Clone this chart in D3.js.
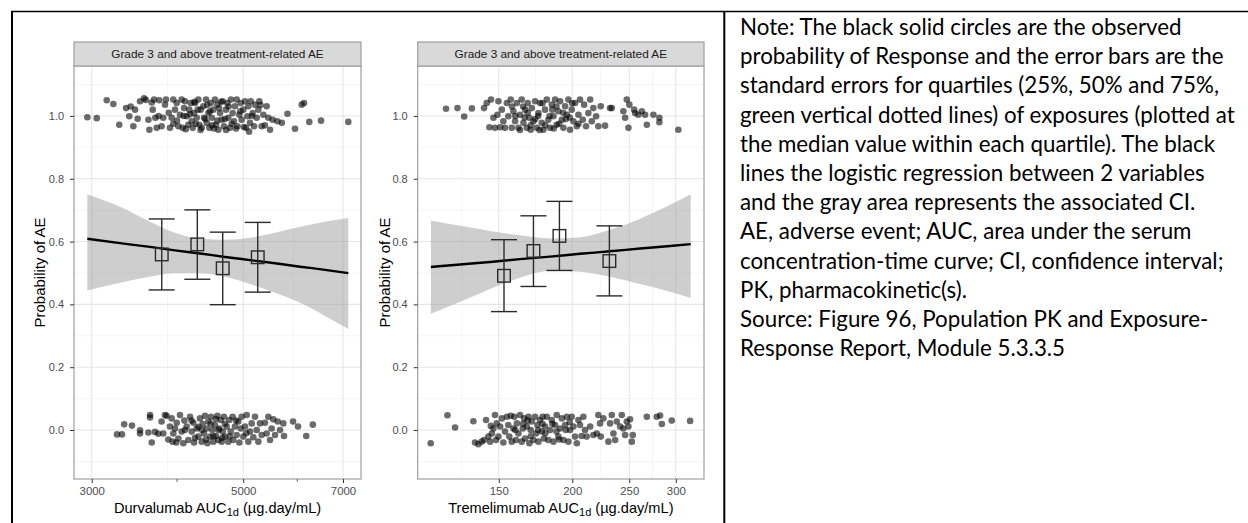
<!DOCTYPE html>
<html>
<head>
<meta charset="utf-8">
<script src="https://cdn.jsdelivr.net/npm/d3@7"></script>
<style>
  body { margin: 0; background: #fff; }
  svg { display: block; }
</style>
</head>
<body>
<svg id="chart" width="1248" height="523"></svg>
<script>
// ---------------- data ----------------
const stripTitle = "Grade 3 and above treatment-related AE";
const yAxisTitle = "Probability of AE";
const yTicks = [0, 0.2, 0.4, 0.6, 0.8, 1.0];

// Durvalumab exposure (AUC1d) and jittered event outcome (1 = AE, 0 = no AE)
const durvaTicks = [3000, 5000, 7000];
const durvaSmallTicks = [4000, 6000];
const durvaEvent = [
  [2956,0.996],[3051,0.993],[3156,1.050],[3227,1.038],[3292,0.972],[3368,1.025],[3421,1.030],[3405,0.999],
  [3452,0.967],[3472,1.020],[3503,0.991],[3531,1.047],[3579,1.056],[3600,1.051],[3644,0.956],[3632,0.988],
  [3673,1.043],[3685,1.020],[3702,1.052],[3735,0.962],[3718,0.994],[3768,1.050],[3797,0.967],[3819,0.994],
  [3841,1.036],[3854,1.052],[3906,0.962],[3928,0.994],[3950,1.052],[3973,1.020],[3996,1.041],[4018,0.967],
  [4040,1.004],[4063,1.052],[4077,0.962],[4095,1.025],[4109,1.047],[4132,0.999],[4155,0.972],[4169,1.020],
  [4189,1.041],[4203,0.983],[4217,0.962],[4236,1.009],[4250,1.041],[4274,0.994],[4298,1.052],[4312,0.972],
  [4332,1.020],[4347,0.962],[4371,1.031],[4381,0.994],[4411,1.052],[4421,0.978],[4446,1.009],[4461,0.962],
  [4482,1.041],[4497,0.994],[4521,1.020],[4546,1.052],[4562,0.972],[4583,1.036],[4598,0.956],[4624,1.009],
  [4650,0.988],[4666,1.047],[4686,0.967],[4718,1.020],[4739,1.041],[4755,0.994],[4782,0.962],[4798,1.052],
  [4825,1.009],[4847,0.983],[4863,1.031],[4891,1.052],[4902,0.967],[4935,1.004],[4958,1.041],[4974,0.988],
  [5002,1.020],[5030,1.047],[5047,0.962],[5070,0.999],[5087,1.031],[5116,0.978],[5128,1.047],[5163,1.009],
  [5186,0.967],[5203,1.036],[5233,0.994],[5262,1.020],[5280,1.047],[5321,0.967],[5351,1.004],[5411,1.031],
  [5442,0.994],[5473,0.956],[5523,0.988],[5611,0.983],[5695,0.978],[5805,1.007],[5954,0.959],[6090,1.036],
  [6138,1.041],[6248,0.981],[6500,0.985],[7126,0.981],
  [4000,0.985],[4120,0.958],[4260,0.975],[4400,0.990],[4430,1.035],[4530,0.960],[4610,1.025],[4700,0.990],
  [4760,1.030],[4880,0.960],[4950,1.015],[5100,0.950],[4180,1.005],[4330,0.955],[4470,1.015],[4580,0.985],
  [4810,0.975],[5010,0.965],[3890,1.010],[3950,0.975],[4240,1.045],[4640,1.045],[5150,1.000],[5300,1.035],
  [5380,0.970],[3760,1.000],[4090,1.000],[4290,1.020],[4500,0.970],[4720,0.955]
];
const durvaNoEvent = [
  [3267,-0.014],[3322,-0.014],[3347,0.018],[3436,0.014],[3531,-0.001],[3531,-0.011],[3632,-0.008],[3652,0.048],
  [3652,0.040],[3673,-0.040],[3714,-0.006],[3755,-0.012],[3797,0.027],[3819,-0.011],[3841,0.048],[3862,0.045],
  [3884,-0.030],[3906,0.011],[3928,0.037],[3941,-0.037],[3950,-0.011],[3973,0.005],[3996,0.023],[4018,-0.027],
  [4040,0.048],[4063,-0.005],[4086,-0.042],[4109,0.000],[4132,0.011],[4155,-0.032],[4179,0.042],[4203,-0.005],
  [4226,0.023],[4236,-0.040],[4274,0.005],[4298,-0.021],[4322,0.037],[4347,-0.037],[4361,0.019],[4381,-0.011],
  [4396,0.045],[4421,0.005],[4431,-0.042],[4446,0.027],[4471,-0.021],[4486,0.042],[4506,0.000],[4521,-0.037],
  [4546,0.016],[4562,-0.019],[4583,0.045],[4598,-0.032],[4614,0.005],[4635,0.032],[4650,-0.037],[4666,-0.005],
  [4686,0.042],[4702,-0.021],[4729,0.011],[4755,-0.037],[4771,0.032],[4793,-0.005],[4825,0.042],[4836,-0.032],
  [4863,0.011],[4891,-0.016],[4918,0.027],[4935,-0.040],[4958,0.005],[4974,0.042],[5002,-0.021],[5030,0.011],
  [5058,0.048],[5087,-0.037],[5116,-0.005],[5145,0.021],[5174,-0.023],[5203,0.042],[5233,0.000],[5262,-0.037],
  [5291,0.021],[5321,-0.016],[5381,0.023],[5411,-0.011],[5442,0.042],[5473,-0.032],[5503,0.005],[5533,0.034],
  [5566,-0.016],[5617,0.027],[5661,0.000],[5724,0.021],[5737,-0.019],[5915,0.027],[6015,0.011],[6184,-0.019],
  [6323,0.017],
  [4200,0.030],[4350,0.000],[4480,0.020],[4600,0.000],[4700,0.020],[4520,-0.020],[4410,-0.030],[4300,0.010],
  [4780,-0.020],[4880,0.030],[5050,-0.010],[4250,-0.025],[4560,0.035],[4660,-0.025],[3990,-0.040],[4100,0.030]
];
// logistic fit with its confidence band
const durvaCurveX  = [2956, 3300, 3652, 3973, 4322, 4702, 5116, 5566, 6056, 6590, 7126];
const durvaCurveP  = [0.609, 0.595, 0.583, 0.572, 0.562, 0.551, 0.541, 0.531, 0.520, 0.510, 0.4995];
const durvaCurveLo = [0.444, 0.469, 0.488, 0.499, 0.499, 0.488, 0.465, 0.437, 0.405, 0.363, 0.322];
const durvaCurveHi = [0.751, 0.711, 0.663, 0.628, 0.609, 0.606, 0.612, 0.628, 0.647, 0.663, 0.675];
// observed probability by exposure quartile (median exposure), +/- standard error
const durvaQuartX  = [3799, 4283, 4666, 5251];
const durvaQuartP  = [0.559, 0.591, 0.515, 0.550];
const durvaQuartLo = [0.446, 0.480, 0.399, 0.439];
const durvaQuartHi = [0.672, 0.701, 0.630, 0.661];

// Tremelimumab
const tremeTicks = [150, 200, 250, 300];
const tremeEvent = [
  [122.0,1.023],[127.6,1.025],[131.0,0.998],[135.0,1.024],[141.6,1.025],[143.1,1.041],[144.6,0.964],[145.5,1.052],
  [146.9,0.994],[147.8,0.962],[149.2,1.004],[149.8,1.047],[150.8,0.964],[151.8,1.020],[152.7,0.983],[153.7,0.962],
  [154.8,1.041],[155.7,0.999],[157.2,1.052],[157.8,0.962],[158.8,1.015],[159.9,0.983],[161.0,1.041],[162.0,0.962],
  [163.0,1.004],[164.1,1.052],[165.2,0.978],[166.3,1.020],[167.4,0.962],[168.0,1.041],[169.1,0.994],[170.0,0.956],
  [170.7,1.025],[171.8,0.983],[172.9,1.047],[174.1,0.962],[175.2,1.009],[176.3,1.041],[177.5,0.978],[178.6,0.956],
  [179.8,1.020],[181.0,1.052],[182.1,0.988],[183.4,0.962],[184.6,1.036],[185.8,0.999],[187.0,1.052],[188.2,0.972],
  [189.4,1.015],[190.7,1.047],[192.0,0.988],[193.2,0.962],[194.5,1.031],[195.8,1.004],[197.0,1.052],[198.3,0.956],
  [199.6,1.020],[200.9,0.983],[202.2,1.041],[203.6,0.967],[204.9,1.004],[206.2,1.052],[208.4,0.988],[209.5,1.036],
  [211.1,0.967],[213.0,1.009],[214.5,1.052],[215.9,0.983],[217.2,1.025],[219.6,0.999],[221.5,0.967],[223.6,1.031],
  [227.4,0.969],[231.9,1.025],[233.5,1.025],[244.3,1.015],[246.0,0.994],[247.6,1.052],[249.2,0.962],[250.1,1.036],
  [254.8,1.020],[255.8,1.009],[259.1,1.004],[262.6,1.015],[266.0,1.004],[267.8,0.972],[274.8,1.004],[281.3,0.994],
  [281.3,0.980],[303.0,0.956],
  [160,1.000],[165,1.030],[170,0.970],[175,1.000],[180,0.970],[185,1.020],[190,0.975],[195,0.990],[200,1.040],
  [205,0.975],[158,1.030],[163,0.955],[168,1.010],[173,0.990],[178,1.040],[183,1.000],[188,1.030],[193,1.010],
  [198,0.995],[186,0.960],[176,0.955],[166,0.995]
];
const tremeNoEvent = [
  [114.9,-0.042],[122.7,0.047],[126.4,0.008],[135.8,0.028],[136.7,-0.040],[138.5,-0.045],[140.3,-0.037],[141.6,-0.032],
  [142.7,0.032],[144.0,-0.021],[145.0,-0.037],[145.4,0.013],[146.0,-0.011],[146.9,0.005],[147.8,0.048],[148.4,-0.032],
  [148.8,0.021],[149.8,-0.021],[150.8,0.011],[151.8,0.037],[152.7,-0.040],[153.7,-0.005],[154.8,0.042],[155.7,0.016],
  [156.3,-0.021],[157.2,0.045],[157.8,-0.037],[158.8,0.005],[159.4,0.042],[160.5,-0.032],[161.0,0.021],[162.0,-0.011],
  [163.0,0.048],[164.1,-0.037],[164.8,0.005],[165.6,0.037],[166.3,-0.027],[167.4,0.011],[168.5,0.042],[169.1,-0.042],
  [170.0,0.000],[170.7,0.027],[171.8,-0.032],[172.9,0.042],[173.6,-0.011],[174.5,0.016],[175.2,-0.037],[176.3,0.032],
  [177.5,-0.005],[178.1,0.042],[179.0,-0.027],[179.8,0.011],[181.0,0.042],[182.1,-0.032],[183.4,0.000],[184.6,0.032],
  [185.8,-0.037],[187.0,0.016],[188.2,0.048],[189.4,-0.021],[190.7,0.005],[192.0,0.037],[193.2,-0.032],[194.5,0.016],
  [195.8,0.042],[197.0,-0.037],[198.3,0.000],[199.6,0.042],[200.9,0.011],[202.2,-0.021],[203.6,-0.042],[204.9,0.032],
  [206.2,0.016],[207.5,-0.019],[208.9,0.042],[210.2,0.000],[211.6,-0.021],[214.5,0.011],[217.2,-0.016],[220.2,-0.011],
  [221.5,0.048],[223.0,0.021],[223.6,-0.021],[225.9,0.037],[230.4,-0.037],[231.9,0.021],[233.5,0.048],[235.0,-0.011],
  [236.6,-0.032],[238.1,0.027],[241.2,0.011],[242.8,0.048],[244.3,0.005],[246.0,-0.016],[247.6,0.027],[249.2,0.011],
  [250.8,0.034],[252.5,-0.037],[253.5,-0.016],[267.8,0.042],[278.4,0.042],[282.1,0.046],[284.0,0.019],[295.3,0.030],
  [317.3,0.029],
  [160,0.000],[165,0.020],[170,-0.020],[175,0.000],[180,-0.010],[185,0.020],[190,-0.030],[195,0.000],[168,0.030],
  [178,0.020],[188,-0.005],[198,0.025]
];
const tremeCurveX  = [115, 128.9, 145, 163, 183.4, 206.2, 231.9, 260.9, 293.3, 318];
const tremeCurveP  = [0.519, 0.527, 0.535, 0.544, 0.552, 0.561, 0.569, 0.578, 0.586, 0.592];
const tremeCurveLo = [0.370, 0.408, 0.449, 0.485, 0.507, 0.504, 0.488, 0.465, 0.440, 0.420];
const tremeCurveHi = [0.667, 0.650, 0.634, 0.620, 0.610, 0.614, 0.638, 0.673, 0.717, 0.751];
const tremeQuartX  = [153.1, 171.8, 190.2, 231.3];
const tremeQuartP  = [0.491, 0.570, 0.618, 0.538];
const tremeQuartLo = [0.377, 0.457, 0.508, 0.427];
const tremeQuartHi = [0.606, 0.682, 0.728, 0.650];

const noteLines = [
  "Note: The black solid circles are the observed",
  "probability of Response and the error bars are the",
  "standard errors for quartiles (25%, 50% and 75%,",
  "green vertical dotted lines) of exposures (plotted at",
  "the median value within each quartile). The black",
  "lines the logistic regression between 2 variables",
  "and the gray area represents the associated CI.",
  "AE, adverse event; AUC, area under the serum",
  "concentration-time curve; CI, confidence interval;",
  "PK, pharmacokinetic(s).",
  "Source: Figure 96, Population PK and Exposure-",
  "Response Report, Module 5.3.3.5"
];

// ---------------- drawing ----------------
const svg = d3.select("#chart");
const FONT = "'Liberation Sans', Arial, Helvetica, sans-serif";

const panels = [
  {
    drug: "Durvalumab", left: 74, right: 361, xDomain: [2826, 7438],
    ticks: durvaTicks, smallTicks: durvaSmallTicks,
    event: durvaEvent, noEvent: durvaNoEvent,
    cx: durvaCurveX, cp: durvaCurveP, clo: durvaCurveLo, chi: durvaCurveHi,
    qx: durvaQuartX, qp: durvaQuartP, qlo: durvaQuartLo, qhi: durvaQuartHi,
    yTitleX: 44.5
  },
  {
    drug: "Tremelimumab", left: 417.7, right: 704, xDomain: [109.2, 335],
    ticks: tremeTicks, smallTicks: [],
    event: tremeEvent, noEvent: tremeNoEvent,
    cx: tremeCurveX, cp: tremeCurveP, clo: tremeCurveLo, chi: tremeCurveHi,
    qx: tremeQuartX, qp: tremeQuartP, qlo: tremeQuartLo, qhi: tremeQuartHi,
    yTitleX: 389.5
  }
];

const stripTop = 42, panelTop = 66, panelBottom = 479;
const y = d3.scaleLinear().domain([-0.156, 1.159]).range([panelBottom, panelTop]);
const yMinor = d3.range(-0.1, 1.15, 0.2);

// ggplot-style minor breaks: midpoints (in log space) of the majors, extended one step
function logMinor(ticks, domain) {
  const lt = ticks.map(Math.log);
  const step = lt[1] - lt[0];
  const b = lt.slice();
  if (Math.log(domain[0]) < b[0]) b.unshift(b[0] - step);
  if (Math.log(domain[1]) > b[b.length - 1]) b.push(b[b.length - 1] + step);
  const mids = [];
  for (let i = 0; i < b.length - 1; i++) mids.push(Math.exp((b[i] + b[i + 1]) / 2));
  return mids.filter(v => v > domain[0] && v < domain[1]);
}

panels.forEach(p => {
  const x = d3.scaleLog().domain(p.xDomain).range([p.left, p.right]);
  const g = svg.append("g");
  const w = p.right - p.left;

  // panel background
  g.append("rect").attr("x", p.left).attr("y", panelTop).attr("width", w)
    .attr("height", panelBottom - panelTop).attr("fill", "#fff");

  // minor grid
  g.selectAll(".ygm").data(yMinor).join("line")
    .attr("x1", p.left).attr("x2", p.right).attr("y1", d => y(d)).attr("y2", d => y(d))
    .attr("stroke", "#f2f2f2").attr("stroke-width", 0.8);
  g.selectAll(".xgm").data(logMinor(p.ticks, p.xDomain)).join("line")
    .attr("y1", panelTop).attr("y2", panelBottom).attr("x1", d => x(d)).attr("x2", d => x(d))
    .attr("stroke", "#f2f2f2").attr("stroke-width", 0.8);
  // major grid
  g.selectAll(".yg").data(yTicks).join("line")
    .attr("x1", p.left).attr("x2", p.right).attr("y1", d => y(d)).attr("y2", d => y(d))
    .attr("stroke", "#e6e6e6").attr("stroke-width", 1.1);
  g.selectAll(".xg").data(p.ticks).join("line")
    .attr("y1", panelTop).attr("y2", panelBottom).attr("x1", d => x(d)).attr("x2", d => x(d))
    .attr("stroke", "#e6e6e6").attr("stroke-width", 1.1);

  // confidence band
  const band = p.cx.map((v, i) => ({ x: v, lo: p.clo[i], hi: p.chi[i], p: p.cp[i] }));
  g.append("path").datum(band)
    .attr("d", d3.area().x(d => x(d.x)).y0(d => y(d.lo)).y1(d => y(d.hi)).curve(d3.curveMonotoneX))
    .attr("fill", "#999").attr("fill-opacity", 0.48);

  // observed outcomes (jittered)
  g.selectAll(".pt").data(p.event.concat(p.noEvent)).join("circle")
    .attr("cx", d => x(d[0])).attr("cy", d => y(d[1])).attr("r", 3.3)
    .attr("fill", "#000").attr("fill-opacity", 0.58);

  // logistic regression line
  g.append("path").datum(band)
    .attr("d", d3.line().x(d => x(d.x)).y(d => y(d.p)).curve(d3.curveMonotoneX))
    .attr("fill", "none").attr("stroke", "#000").attr("stroke-width", 2.4);

  // quartile error bars and squares
  const q = p.qx.map((v, i) => ({ x: v, p: p.qp[i], lo: p.qlo[i], hi: p.qhi[i] }));
  const eb = g.selectAll(".eb").data(q).join("g").attr("stroke", "#2b2b2b").attr("stroke-width", 1.4).attr("fill", "none");
  eb.append("line").attr("x1", d => x(d.x)).attr("x2", d => x(d.x)).attr("y1", d => y(d.lo)).attr("y2", d => y(d.hi));
  eb.append("line").attr("x1", d => x(d.x) - 13).attr("x2", d => x(d.x) + 13).attr("y1", d => y(d.lo)).attr("y2", d => y(d.lo));
  eb.append("line").attr("x1", d => x(d.x) - 13).attr("x2", d => x(d.x) + 13).attr("y1", d => y(d.hi)).attr("y2", d => y(d.hi));
  eb.append("rect").attr("x", d => x(d.x) - 6.3).attr("y", d => y(d.p) - 6.3).attr("width", 12.6).attr("height", 12.6);

  // panel border
  g.append("rect").attr("x", p.left).attr("y", panelTop).attr("width", w)
    .attr("height", panelBottom - panelTop).attr("fill", "none").attr("stroke", "#9e9e9e").attr("stroke-width", 1.2);

  // strip
  g.append("rect").attr("x", p.left).attr("y", stripTop).attr("width", w).attr("height", panelTop - stripTop)
    .attr("fill", "#d9d9d9").attr("stroke", "#9e9e9e").attr("stroke-width", 1.2);
  g.append("text").attr("x", (p.left + p.right) / 2).attr("y", (stripTop + panelTop) / 2 + 4)
    .attr("text-anchor", "middle").attr("font-family", FONT).attr("font-size", 11.8)
    .attr("fill", "#1a1a1a").text(stripTitle);

  // y axis
  const ya = g.append("g").attr("transform", `translate(${p.left},0)`)
    .call(d3.axisLeft(y).tickValues(yTicks).tickFormat(d3.format(".1f")).tickSize(4).tickPadding(6));
  ya.select(".domain").remove();
  ya.selectAll("line").attr("stroke", "#333");
  ya.selectAll("text").attr("font-family", FONT).attr("font-size", 11).attr("fill", "#4d4d4d");

  // x axis
  const xa = g.append("g").attr("transform", `translate(0,${panelBottom})`)
    .call(d3.axisBottom(x).tickValues(p.ticks).tickFormat(d3.format("d")).tickSize(4).tickPadding(4));
  xa.select(".domain").remove();
  xa.selectAll("line").attr("stroke", "#333");
  xa.selectAll("text").attr("font-family", FONT).attr("font-size", 11.4).attr("fill", "#4d4d4d");
  g.selectAll(".st").data(p.smallTicks).join("line")
    .attr("x1", d => x(d)).attr("x2", d => x(d)).attr("y1", panelBottom).attr("y2", panelBottom + 3)
    .attr("stroke", "#555").attr("stroke-width", 0.9);

  // x title with subscript
  const xt = g.append("text").attr("x", (p.left + p.right) / 2).attr("y", 512.5)
    .attr("text-anchor", "middle").attr("font-family", FONT).attr("font-size", 14.6).attr("fill", "#000");
  xt.append("tspan").text(p.drug + " AUC");
  xt.append("tspan").attr("font-size", 11).attr("dy", 3.5).text("1d");
  xt.append("tspan").attr("dy", -3.5).text(" (µg.day/mL)");

  // y title
  g.append("text").attr("transform", `translate(${p.yTitleX},${(panelTop + panelBottom) / 2}) rotate(-90)`)
    .attr("text-anchor", "middle").attr("font-family", FONT).attr("font-size", 15).attr("fill", "#000")
    .text(yAxisTitle);
});

// table rules
svg.append("line").attr("x1", 11).attr("x2", 1248).attr("y1", 11.5).attr("y2", 11.5).attr("stroke", "#000").attr("stroke-width", 1.3);
svg.append("line").attr("x1", 12).attr("x2", 12).attr("y1", 11).attr("y2", 523).attr("stroke", "#000").attr("stroke-width", 2);
svg.append("line").attr("x1", 724.3).attr("x2", 724.3).attr("y1", 11).attr("y2", 523).attr("stroke", "#000").attr("stroke-width", 2);

// note column
const NOTE_FONT = "Lato, 'Open Sans', sans-serif";
const note = svg.append("g");
const probe = note.append("text").attr("font-family", NOTE_FONT).attr("font-size", 20).text(noteLines[3]);
const natural = probe.node().getComputedTextLength();
probe.remove();
const noteSize = 20 * 495 / natural;
note.selectAll("text").data(noteLines).join("text")
  .attr("x", 740).attr("y", (d, i) => 35 + i * 29.2)
  .attr("font-family", NOTE_FONT).attr("font-size", noteSize).attr("fill", "#000")
  .text(d => d);
</script>
</body>
</html>
